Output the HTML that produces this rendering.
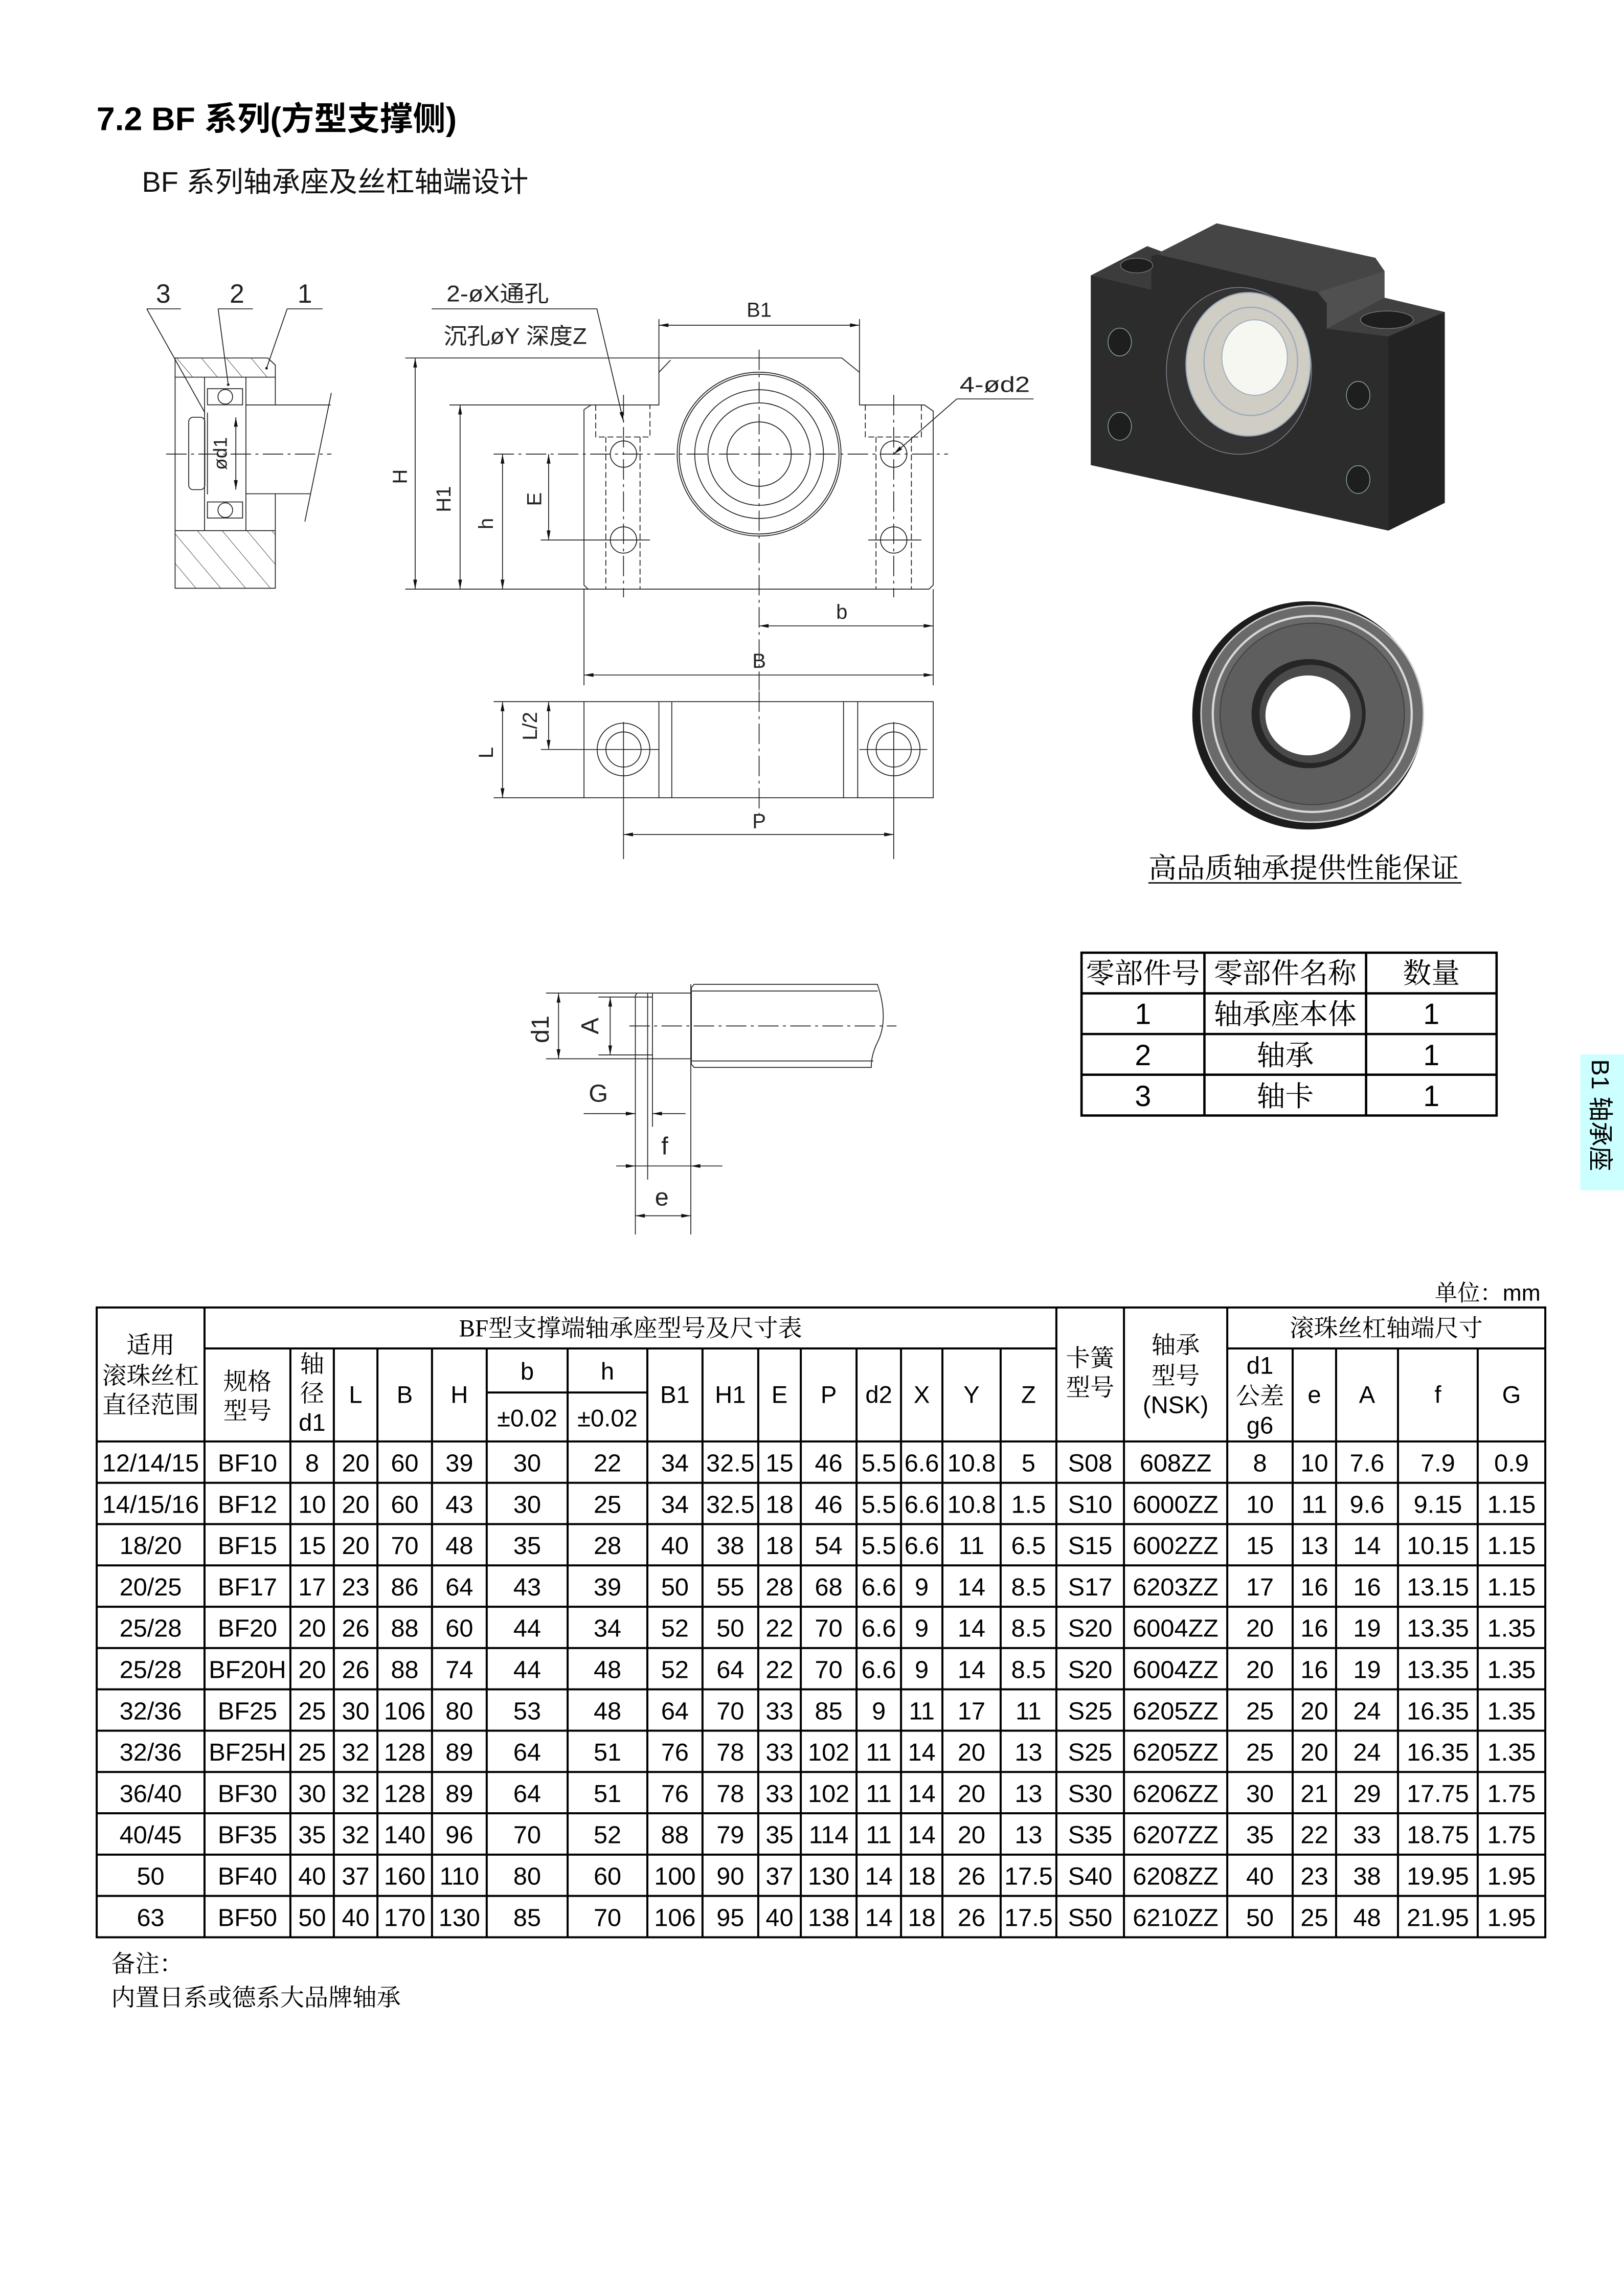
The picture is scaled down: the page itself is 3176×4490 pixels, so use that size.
<!DOCTYPE html>
<html><head><meta charset="utf-8"><style>
html,body{margin:0;padding:0;background:#fff;}
svg{display:block;}
.cad{font-family:"Liberation Sans","Noto Sans CJK SC",sans-serif;fill:#222;}
.s{font-family:"Liberation Serif","Noto Serif CJK SC",serif;fill:#000;}
.n{font-family:"Liberation Sans",sans-serif;fill:#000;}
</style></head><body>
<svg width="3176" height="4490" viewBox="0 0 1110.1 1569.4" preserveAspectRatio="none" xmlns="http://www.w3.org/2000/svg">
<defs>
<marker id="a" viewBox="0 0 10 4" refX="10" refY="2" markerWidth="8" markerHeight="2.6" markerUnits="userSpaceOnUse" orient="auto-start-reverse"><path d="M0,0 L10,2 L0,4z" fill="#111"/></marker>
<pattern id="hat" patternUnits="userSpaceOnUse" width="13" height="13" patternTransform="rotate(-40)"><line x1="0" y1="0" x2="0" y2="13" stroke="#333" stroke-width="0.6"/></pattern>
</defs>
<rect width="1110.1" height="1569.4" fill="#fff"/>

<text x="66" y="89" font-family="'Liberation Sans','Noto Sans CJK SC',sans-serif" font-weight="bold" font-size="22.5" fill="#000">7.2 BF 系列(方型支撑侧)</text>
<text x="97" y="131" font-family="'Liberation Sans','Noto Sans CJK SC',sans-serif" font-size="19.5" fill="#111">BF 系列轴承座及丝杠轴端设计</text>

<g stroke="#222" stroke-width="0.6" fill="none">
<path d="M119.7,257.8 V244.7 H183 L188.2,249.5 V257.8 Z" fill="url(#hat)"/>
<rect x="119.7" y="362.7" width="68.5" height="39.4" fill="url(#hat)"/>
<line x1="119.7" y1="257.8" x2="119.7" y2="362.7"/>
<line x1="188.2" y1="257.8" x2="188.2" y2="276.8"/>
<line x1="188.2" y1="337.5" x2="188.2" y2="362.7"/>
<line x1="139.8" y1="257.8" x2="139.8" y2="362.7"/>
<line x1="168.1" y1="257.8" x2="168.1" y2="362.7"/>
<line x1="168.1" y1="276.8" x2="226" y2="276.8"/>
<line x1="168.1" y1="337.5" x2="212" y2="337.5"/>
<line x1="226.5" y1="268.5" x2="208.4" y2="356.5"/>
<rect x="129" y="285.2" width="11" height="49.5" rx="3"/>
<line x1="141.8" y1="282" x2="141.8" y2="338"/>
<rect x="141.8" y="265.7" width="24" height="11"/>
<circle cx="154" cy="271.2" r="5"/>
<rect x="141.8" y="343.1" width="24" height="11"/>
<circle cx="154" cy="348.7" r="5"/>
<line x1="113.6" y1="310.4" x2="226.5" y2="310.4" stroke-dasharray="14 3 2 3"/>
<line x1="161.2" y1="285.2" x2="161.2" y2="334.7" marker-start="url(#a)" marker-end="url(#a)"/>
<polyline points="100.3,211.1 123.7,211.1"/><line x1="100.3" y1="211.1" x2="140" y2="282"/>
<polyline points="149.1,211.1 172.9,211.1"/><line x1="149.1" y1="211.1" x2="156" y2="262.9"/>
<polyline points="196.3,211.1 220.5,211.1"/><line x1="196.3" y1="211.1" x2="182.2" y2="251.7"/>
</g>
<circle cx="156" cy="262.9" r="0.9" fill="#222"/><circle cx="182.2" cy="251.7" r="0.9" fill="#222"/>
<text class="cad" x="111.6" y="207" font-size="18" text-anchor="middle">3</text>
<text class="cad" x="162" y="207" font-size="18" text-anchor="middle">2</text>
<text class="cad" x="208.4" y="207" font-size="18" text-anchor="middle">1</text>
<text class="cad" transform="translate(155,310) rotate(-90)" font-size="13" text-anchor="middle">ød1</text>

<g stroke="#222" stroke-width="0.6" fill="none">
<path d="M277,244.7 H575.4 L587.5,254.5 V276.8 H631.9 L637.9,281 V399.9 L635,402.7 H277"/>
<path d="M307.2,276.8 H450.4 V244.7"/>
<path d="M450.4,254.5 L458.4,246.1"/>
<path d="M404,276.8 L399.2,280 V400 L402,402.7"/>
<g stroke-dasharray="4 2">
<path d="M407.2,276.8 V298.7 H444.3 V276.8"/>
<line x1="414.1" y1="298.7" x2="414.1" y2="402.7"/><line x1="437.5" y1="298.7" x2="437.5" y2="402.7"/>
<path d="M591.5,276.8 V298.7 H629.8 V276.8"/>
<line x1="598.8" y1="298.7" x2="598.8" y2="402.7"/><line x1="623" y1="298.7" x2="623" y2="402.7"/>
</g>
<circle cx="426.2" cy="310.4" r="9"/><circle cx="426.2" cy="369.1" r="9"/>
<circle cx="610.9" cy="310.4" r="9"/><circle cx="610.9" cy="369.1" r="9"/>
<circle cx="518.9" cy="310.4" r="56"/><circle cx="518.9" cy="310.4" r="54.6"/>
<circle cx="518.9" cy="310.4" r="44"/><circle cx="518.9" cy="310.4" r="35"/><circle cx="518.9" cy="310.4" r="22"/>
<g stroke-dasharray="14 3 2 3">
<line x1="426.2" y1="269.9" x2="426.2" y2="408.3"/>
<line x1="610.9" y1="269.9" x2="610.9" y2="408.3"/>
<line x1="518.9" y1="239" x2="518.9" y2="472"/>
<line x1="337.4" y1="310.4" x2="648" y2="310.4"/>
</g>
<line x1="369.7" y1="369.1" x2="444.3" y2="369.1"/>
<line x1="593.5" y1="369.1" x2="629.8" y2="369.1"/>
<line x1="283.8" y1="244.7" x2="283.8" y2="402.7" marker-start="url(#a)" marker-end="url(#a)"/>
<line x1="314.5" y1="276.8" x2="314.5" y2="402.7" marker-start="url(#a)" marker-end="url(#a)"/>
<line x1="343.5" y1="310.4" x2="343.5" y2="402.7" marker-start="url(#a)" marker-end="url(#a)"/>
<line x1="375" y1="310.4" x2="375" y2="369.1" marker-start="url(#a)" marker-end="url(#a)"/>
<line x1="450.4" y1="218.1" x2="450.4" y2="244.7"/><line x1="587.5" y1="218.1" x2="587.5" y2="254.5"/>
<line x1="450.4" y1="222.3" x2="587.5" y2="222.3" marker-start="url(#a)" marker-end="url(#a)"/>
<line x1="637.9" y1="402.7" x2="637.9" y2="468.4"/><line x1="399.2" y1="402.7" x2="399.2" y2="468.4"/>
<line x1="518.9" y1="427.8" x2="637.9" y2="427.8" marker-start="url(#a)" marker-end="url(#a)"/>
<line x1="399.2" y1="461.4" x2="637.9" y2="461.4" marker-start="url(#a)" marker-end="url(#a)"/>
<polyline points="295.1,211.1 408,211.1 426.2,288" marker-end="url(#a)"/>
<polyline points="706.5,272.7 654,272.7 610.9,310.4" marker-end="url(#a)"/>
</g>
<text class="cad" x="305.2" y="206" font-size="15.5" textLength="70" lengthAdjust="spacingAndGlyphs">2-øX通孔</text>
<text class="cad" x="303.2" y="235" font-size="15.5" textLength="98" lengthAdjust="spacingAndGlyphs">沉孔øY 深度Z</text>
<text class="cad" x="518.9" y="216.5" font-size="14" text-anchor="middle">B1</text>
<text class="cad" x="656" y="268" font-size="15" textLength="48" lengthAdjust="spacingAndGlyphs">4-ød2</text>
<text class="cad" transform="translate(278,325.8) rotate(-90)" font-size="14" text-anchor="middle">H</text>
<text class="cad" transform="translate(308,341.2) rotate(-90)" font-size="14" text-anchor="middle">H1</text>
<text class="cad" transform="translate(337,357.9) rotate(-90)" font-size="14" text-anchor="middle">h</text>
<text class="cad" transform="translate(370,341.2) rotate(-90)" font-size="14" text-anchor="middle">E</text>
<text class="cad" x="575.4" y="423" font-size="14" text-anchor="middle">b</text>
<text class="cad" x="518.9" y="456.5" font-size="14" text-anchor="middle">B</text>

<g stroke="#222" stroke-width="0.6" fill="none">
<rect x="399.2" y="479.6" width="238.7" height="65.7"/>
<line x1="450.4" y1="479.6" x2="450.4" y2="545.3"/><line x1="459.2" y1="479.6" x2="459.2" y2="545.3"/>
<line x1="576.6" y1="479.6" x2="576.6" y2="545.3"/><line x1="586.3" y1="479.6" x2="586.3" y2="545.3"/>
<circle cx="426.2" cy="512.3" r="18"/><circle cx="426.2" cy="512.3" r="12"/>
<circle cx="610.9" cy="512.3" r="18"/><circle cx="610.9" cy="512.3" r="12"/>
<line x1="337.4" y1="479.6" x2="399.2" y2="479.6"/><line x1="337.4" y1="545.3" x2="399.2" y2="545.3"/>
<line x1="369.7" y1="512.3" x2="450.4" y2="512.3"/><line x1="587.5" y1="512.3" x2="633.9" y2="512.3"/>
<line x1="426.2" y1="493.5" x2="426.2" y2="587.2"/><line x1="610.9" y1="493.5" x2="610.9" y2="587.2"/>
<line x1="518.9" y1="472.6" x2="518.9" y2="556.5" stroke-dasharray="14 3 2 3"/>
<line x1="343.5" y1="479.6" x2="343.5" y2="545.3" marker-start="url(#a)" marker-end="url(#a)"/>
<line x1="375" y1="479.6" x2="375" y2="512.3" marker-start="url(#a)" marker-end="url(#a)"/>
<line x1="426.2" y1="570.4" x2="610.9" y2="570.4" marker-start="url(#a)" marker-end="url(#a)"/>
</g>
<text class="cad" transform="translate(337,514.5) rotate(-90)" font-size="14" text-anchor="middle">L</text>
<text class="cad" transform="translate(367,496.3) rotate(-90)" font-size="14" text-anchor="middle">L/2</text>
<text class="cad" x="518.9" y="566" font-size="14" text-anchor="middle">P</text>

<g>
<polygon points="745.6,188.3 784.2,168.3 794,171.9 831.7,152.7 940.1,176.2 946.4,185.3 946.4,203.5 987.6,213.3 987.6,343.7 949,362.7 745.6,317.9" fill="#2c2c2c"/>
<polygon points="745.6,188.3 784.2,168.3 794,171.9 791.3,173.9 787,175 787,198.2" fill="#3c3c3c"/>
<polygon points="794,171.9 831.7,152.7 940.1,176.2 946.4,185.3 900.7,199.7 791.3,173.9" fill="#454545"/>
<polygon points="946.4,185.3 946.4,203.5 906.9,224.7 906.9,207.3 900.7,199.7" fill="#505050"/>
<polygon points="946.4,203.5 987.6,213.3 949,230 906.9,224.7" fill="#404040"/>
<polygon points="987.6,213.3 987.6,343.7 949,362.7 949,230" fill="#232323"/>
<ellipse cx="777" cy="181.5" rx="11" ry="5" fill="#1e1e1e" stroke="#777" stroke-width="0.5"/>
<ellipse cx="948" cy="218.6" rx="18" ry="6" fill="#1e1e1e" stroke="#777" stroke-width="0.5"/>
<ellipse cx="846.9" cy="253.5" rx="49.6" ry="57" fill="#333" stroke="#889" stroke-width="0.5"/>
<ellipse cx="853.2" cy="249" rx="42.5" ry="49" fill="#cfcdc4" stroke="#9ab" stroke-width="0.8"/>
<ellipse cx="855" cy="247" rx="32" ry="37" fill="none" stroke="#9ab" stroke-width="0.8"/>
<ellipse cx="857.6" cy="244.4" rx="22.4" ry="25.8" fill="#f7f7f2" stroke="#9ab" stroke-width="0.6"/>
<ellipse cx="765.4" cy="233.8" rx="8" ry="9.5" fill="#1e1e1e" stroke="#8aa" stroke-width="0.5"/>
<ellipse cx="765.4" cy="291.4" rx="8" ry="9.5" fill="#1e1e1e" stroke="#8aa" stroke-width="0.5"/>
<ellipse cx="928.4" cy="270.2" rx="8" ry="9.5" fill="#1e1e1e" stroke="#8aa" stroke-width="0.5"/>
<ellipse cx="928.4" cy="327.8" rx="8" ry="9.5" fill="#1e1e1e" stroke="#8aa" stroke-width="0.5"/>
</g>

<g>
<ellipse cx="894" cy="489" rx="79" ry="78" fill="#1c1c1c"/>
<ellipse cx="897" cy="488" rx="76" ry="74" fill="#6a6a6a" stroke="#cfcfcf" stroke-width="1"/>
<ellipse cx="897" cy="488" rx="68" ry="67" fill="none" stroke="#d8d8d8" stroke-width="1.5"/>
<ellipse cx="897" cy="488" rx="63" ry="62" fill="#5e5e5e" stroke="#444" stroke-width="0.8"/>
<ellipse cx="894.5" cy="487.8" rx="39" ry="37.3" fill="#262626"/>
<ellipse cx="896" cy="488" rx="35" ry="33.5" fill="#4a4a4a"/>
<ellipse cx="894" cy="489" rx="29" ry="27.3" fill="#ffffff"/>
</g>
<text x="785" y="600" font-family="'Liberation Serif','Noto Serif CJK SC',serif" font-size="19.3" fill="#000">高品质轴承提供性能保证</text>
<line x1="785" y1="603.5" x2="999" y2="603.5" stroke="#000" stroke-width="0.9"/>

<g stroke="#222" stroke-width="0.6" fill="none">
<path d="M474.5,672.8 H599.7 C604,685 606,700 600,712 C596,720 595.5,726 595.6,729.6 H474.5 L472.6,727.5 V675 Z"/>
<line x1="473" y1="677.4" x2="600" y2="677.4"/>
<line x1="473" y1="725.2" x2="597" y2="725.2"/>
<line x1="373.2" y1="678.8" x2="472.6" y2="678.8"/>
<line x1="373.2" y1="723.7" x2="472.6" y2="723.7"/>
<path d="M435.5,678.8 L434.3,680.5 V843.8"/>
<line x1="442.7" y1="678.8" x2="442.7" y2="806.3"/>
<line x1="446" y1="678.8" x2="446" y2="770.2"/>
<line x1="472.2" y1="672.8" x2="472.2" y2="843.8"/>
<line x1="409" y1="681.5" x2="446" y2="681.5"/>
<line x1="409" y1="721.1" x2="446" y2="721.1"/>
<line x1="381.8" y1="678.8" x2="381.8" y2="723.7" marker-start="url(#a)" marker-end="url(#a)"/>
<line x1="417.1" y1="681.5" x2="417.1" y2="721.1" marker-start="url(#a)" marker-end="url(#a)"/>
<line x1="430.2" y1="701.3" x2="612.8" y2="701.3" stroke-dasharray="14 3 2 3"/>
<line x1="399" y1="761.2" x2="434.3" y2="761.2" marker-end="url(#a)"/>
<line x1="468.6" y1="761.2" x2="446" y2="761.2" marker-end="url(#a)"/>
<line x1="421.2" y1="797" x2="434.3" y2="797" marker-end="url(#a)"/>
<line x1="434.3" y1="797" x2="472.2" y2="797"/>
<line x1="493.8" y1="797" x2="472.2" y2="797" marker-end="url(#a)"/>
<line x1="434.3" y1="831" x2="472.2" y2="831" marker-start="url(#a)" marker-end="url(#a)"/>
</g>
<text class="cad" transform="translate(375,703.6) rotate(-90)" font-size="17" text-anchor="middle">d1</text>
<text class="cad" transform="translate(409,701.3) rotate(-90)" font-size="17" text-anchor="middle">A</text>
<text class="cad" x="409" y="753" font-size="17" text-anchor="middle">G</text>
<text class="cad" x="454.4" y="789" font-size="17" text-anchor="middle">f</text>
<text class="cad" x="452.4" y="824" font-size="17" text-anchor="middle">e</text>

<g stroke="#000" stroke-width="1.6" fill="none">
<rect x="739.3" y="651.2" width="283.7" height="111.3"/>
<line x1="823.3" y1="651.2" x2="823.3" y2="762.5"/>
<line x1="933.8" y1="651.2" x2="933.8" y2="762.5"/>
<line x1="739.3" y1="679" x2="1023" y2="679"/>
<line x1="739.3" y1="706.8" x2="1023" y2="706.8"/>
<line x1="739.3" y1="734.6" x2="1023" y2="734.6"/>
</g>
<g class="s" font-size="19.5" text-anchor="middle">
<text x="781.3" y="672">零部件号</text><text x="878.5" y="672">零部件名称</text><text x="978.4" y="672">数量</text>
<text x="878.5" y="700">轴承座本体</text><text x="878.5" y="728">轴承</text><text x="878.5" y="756">轴卡</text>
</g>
<g class="n" font-size="20" text-anchor="middle">
<text x="781.3" y="700">1</text><text x="978.4" y="700">1</text>
<text x="781.3" y="728">2</text><text x="978.4" y="728">1</text>
<text x="781.3" y="756">3</text><text x="978.4" y="756">1</text>
</g>

<rect x="1080.2" y="720.7" width="29.9" height="92.8" fill="#ccffff"/>
<text transform="translate(1088,724) rotate(90)" font-family="'Liberation Sans','Noto Sans CJK SC',sans-serif" font-size="17" fill="#000">B1 轴承座</text>

<text x="1053" y="889" class="s" font-size="15.5" text-anchor="end">单位：<tspan font-family="Liberation Sans">mm</tspan></text>
<g stroke="#000" stroke-width="1.4">
<line x1="66.1" y1="893.7" x2="1056.3" y2="893.7"/>
<line x1="139.8" y1="921.7" x2="722.1" y2="921.7"/>
<line x1="838.9" y1="921.7" x2="1056.3" y2="921.7"/>
<line x1="332.7" y1="951.8" x2="442.5" y2="951.8"/>
<line x1="66.1" y1="985.3" x2="1056.3" y2="985.3"/>
<line x1="66.1" y1="1013.54" x2="1056.3" y2="1013.54"/>
<line x1="66.1" y1="1041.78" x2="1056.3" y2="1041.78"/>
<line x1="66.1" y1="1070.02" x2="1056.3" y2="1070.02"/>
<line x1="66.1" y1="1098.26" x2="1056.3" y2="1098.26"/>
<line x1="66.1" y1="1126.5" x2="1056.3" y2="1126.5"/>
<line x1="66.1" y1="1154.74" x2="1056.3" y2="1154.74"/>
<line x1="66.1" y1="1182.98" x2="1056.3" y2="1182.98"/>
<line x1="66.1" y1="1211.22" x2="1056.3" y2="1211.22"/>
<line x1="66.1" y1="1239.46" x2="1056.3" y2="1239.46"/>
<line x1="66.1" y1="1267.7" x2="1056.3" y2="1267.7"/>
<line x1="66.1" y1="1295.94" x2="1056.3" y2="1295.94"/>
<line x1="66.1" y1="1324.2" x2="1056.3" y2="1324.2"/>
<line x1="66.1" y1="893" x2="66.1" y2="1324.9"/>
<line x1="1056.3" y1="893" x2="1056.3" y2="1324.9"/>
<line x1="139.8" y1="893.7" x2="139.8" y2="1324.2"/>
<line x1="722.1" y1="893.7" x2="722.1" y2="1324.2"/>
<line x1="768.3" y1="893.7" x2="768.3" y2="1324.2"/>
<line x1="838.9" y1="893.7" x2="838.9" y2="1324.2"/>
<line x1="198.5" y1="921.7" x2="198.5" y2="1324.2"/>
<line x1="228.2" y1="921.7" x2="228.2" y2="1324.2"/>
<line x1="258" y1="921.7" x2="258" y2="1324.2"/>
<line x1="295.3" y1="921.7" x2="295.3" y2="1324.2"/>
<line x1="332.7" y1="921.7" x2="332.7" y2="1324.2"/>
<line x1="388" y1="921.7" x2="388" y2="1324.2"/>
<line x1="442.5" y1="921.7" x2="442.5" y2="1324.2"/>
<line x1="480.2" y1="921.7" x2="480.2" y2="1324.2"/>
<line x1="518.3" y1="921.7" x2="518.3" y2="1324.2"/>
<line x1="547.4" y1="921.7" x2="547.4" y2="1324.2"/>
<line x1="585.5" y1="921.7" x2="585.5" y2="1324.2"/>
<line x1="615.9" y1="921.7" x2="615.9" y2="1324.2"/>
<line x1="644.2" y1="921.7" x2="644.2" y2="1324.2"/>
<line x1="684" y1="921.7" x2="684" y2="1324.2"/>
<line x1="883.6" y1="921.7" x2="883.6" y2="1324.2"/>
<line x1="913.3" y1="921.7" x2="913.3" y2="1324.2"/>
<line x1="955.6" y1="921.7" x2="955.6" y2="1324.2"/>
<line x1="1010.1" y1="921.7" x2="1010.1" y2="1324.2"/>
</g>
<g class="s" font-size="16.5" text-anchor="middle">
<text x="102.95" y="925">适用</text><text x="102.95" y="946">滚珠丝杠</text><text x="102.95" y="966">直径范围</text>
<text x="431" y="913.5">BF型支撑端轴承座型号及尺寸表</text>
<text x="169.15" y="950">规格</text><text x="169.15" y="970">型号</text>
<text x="213.35" y="938">轴</text><text x="213.35" y="958">径</text>
<text x="745.2" y="934">卡簧</text><text x="745.2" y="954">型号</text>
<text x="803.6" y="925">轴承</text><text x="803.6" y="946">型号</text>
<text x="947.6" y="913.5">滚珠丝杠轴端尺寸</text>
<text x="861.25" y="960">公差</text>
</g>
<g class="n" font-size="16.5" text-anchor="middle">
<text x="213.35" y="978">d1</text>
<text x="243.1" y="959">L</text><text x="276.65" y="959">B</text><text x="314" y="959">H</text>
<text x="360.35" y="943">b</text><text x="415.25" y="943">h</text>
<text x="360.35" y="975">±0.02</text><text x="415.25" y="975">±0.02</text>
<text x="461.35" y="959">B1</text><text x="499.25" y="959">H1</text><text x="532.85" y="959">E</text><text x="566.45" y="959">P</text>
<text x="600.7" y="959">d2</text><text x="630.05" y="959">X</text><text x="664.1" y="959">Y</text><text x="703.05" y="959">Z</text>
<text x="803.6" y="966">(NSK)</text>
<text x="861.25" y="939">d1</text><text x="861.25" y="980">g6</text>
<text x="898.45" y="959">e</text><text x="934.45" y="959">A</text><text x="982.85" y="959">f</text><text x="1033.2" y="959">G</text>
</g>

<g class="n" font-size="17" text-anchor="middle">
<g transform="translate(0,985.3)">
<text x="102.95" y="20.5">12/14/15</text><text x="169.15" y="20.5">BF10</text><text x="213.35" y="20.5">8</text><text x="243.1" y="20.5">20</text><text x="276.65" y="20.5">60</text><text x="314" y="20.5">39</text><text x="360.35" y="20.5">30</text><text x="415.25" y="20.5">22</text><text x="461.35" y="20.5">34</text><text x="499.25" y="20.5">32.5</text><text x="532.85" y="20.5">15</text><text x="566.45" y="20.5">46</text><text x="600.7" y="20.5">5.5</text><text x="630.05" y="20.5">6.6</text><text x="664.1" y="20.5">10.8</text><text x="703.05" y="20.5">5</text><text x="745.2" y="20.5">S08</text><text x="803.6" y="20.5">608ZZ</text><text x="861.25" y="20.5">8</text><text x="898.45" y="20.5">10</text><text x="934.45" y="20.5">7.6</text><text x="982.85" y="20.5">7.9</text><text x="1033.2" y="20.5">0.9</text>
</g>
<g transform="translate(0,1013.54)">
<text x="102.95" y="20.5">14/15/16</text><text x="169.15" y="20.5">BF12</text><text x="213.35" y="20.5">10</text><text x="243.1" y="20.5">20</text><text x="276.65" y="20.5">60</text><text x="314" y="20.5">43</text><text x="360.35" y="20.5">30</text><text x="415.25" y="20.5">25</text><text x="461.35" y="20.5">34</text><text x="499.25" y="20.5">32.5</text><text x="532.85" y="20.5">18</text><text x="566.45" y="20.5">46</text><text x="600.7" y="20.5">5.5</text><text x="630.05" y="20.5">6.6</text><text x="664.1" y="20.5">10.8</text><text x="703.05" y="20.5">1.5</text><text x="745.2" y="20.5">S10</text><text x="803.6" y="20.5">6000ZZ</text><text x="861.25" y="20.5">10</text><text x="898.45" y="20.5">11</text><text x="934.45" y="20.5">9.6</text><text x="982.85" y="20.5">9.15</text><text x="1033.2" y="20.5">1.15</text>
</g>
<g transform="translate(0,1041.78)">
<text x="102.95" y="20.5">18/20</text><text x="169.15" y="20.5">BF15</text><text x="213.35" y="20.5">15</text><text x="243.1" y="20.5">20</text><text x="276.65" y="20.5">70</text><text x="314" y="20.5">48</text><text x="360.35" y="20.5">35</text><text x="415.25" y="20.5">28</text><text x="461.35" y="20.5">40</text><text x="499.25" y="20.5">38</text><text x="532.85" y="20.5">18</text><text x="566.45" y="20.5">54</text><text x="600.7" y="20.5">5.5</text><text x="630.05" y="20.5">6.6</text><text x="664.1" y="20.5">11</text><text x="703.05" y="20.5">6.5</text><text x="745.2" y="20.5">S15</text><text x="803.6" y="20.5">6002ZZ</text><text x="861.25" y="20.5">15</text><text x="898.45" y="20.5">13</text><text x="934.45" y="20.5">14</text><text x="982.85" y="20.5">10.15</text><text x="1033.2" y="20.5">1.15</text>
</g>
<g transform="translate(0,1070.02)">
<text x="102.95" y="20.5">20/25</text><text x="169.15" y="20.5">BF17</text><text x="213.35" y="20.5">17</text><text x="243.1" y="20.5">23</text><text x="276.65" y="20.5">86</text><text x="314" y="20.5">64</text><text x="360.35" y="20.5">43</text><text x="415.25" y="20.5">39</text><text x="461.35" y="20.5">50</text><text x="499.25" y="20.5">55</text><text x="532.85" y="20.5">28</text><text x="566.45" y="20.5">68</text><text x="600.7" y="20.5">6.6</text><text x="630.05" y="20.5">9</text><text x="664.1" y="20.5">14</text><text x="703.05" y="20.5">8.5</text><text x="745.2" y="20.5">S17</text><text x="803.6" y="20.5">6203ZZ</text><text x="861.25" y="20.5">17</text><text x="898.45" y="20.5">16</text><text x="934.45" y="20.5">16</text><text x="982.85" y="20.5">13.15</text><text x="1033.2" y="20.5">1.15</text>
</g>
<g transform="translate(0,1098.26)">
<text x="102.95" y="20.5">25/28</text><text x="169.15" y="20.5">BF20</text><text x="213.35" y="20.5">20</text><text x="243.1" y="20.5">26</text><text x="276.65" y="20.5">88</text><text x="314" y="20.5">60</text><text x="360.35" y="20.5">44</text><text x="415.25" y="20.5">34</text><text x="461.35" y="20.5">52</text><text x="499.25" y="20.5">50</text><text x="532.85" y="20.5">22</text><text x="566.45" y="20.5">70</text><text x="600.7" y="20.5">6.6</text><text x="630.05" y="20.5">9</text><text x="664.1" y="20.5">14</text><text x="703.05" y="20.5">8.5</text><text x="745.2" y="20.5">S20</text><text x="803.6" y="20.5">6004ZZ</text><text x="861.25" y="20.5">20</text><text x="898.45" y="20.5">16</text><text x="934.45" y="20.5">19</text><text x="982.85" y="20.5">13.35</text><text x="1033.2" y="20.5">1.35</text>
</g>
<g transform="translate(0,1126.5)">
<text x="102.95" y="20.5">25/28</text><text x="169.15" y="20.5">BF20H</text><text x="213.35" y="20.5">20</text><text x="243.1" y="20.5">26</text><text x="276.65" y="20.5">88</text><text x="314" y="20.5">74</text><text x="360.35" y="20.5">44</text><text x="415.25" y="20.5">48</text><text x="461.35" y="20.5">52</text><text x="499.25" y="20.5">64</text><text x="532.85" y="20.5">22</text><text x="566.45" y="20.5">70</text><text x="600.7" y="20.5">6.6</text><text x="630.05" y="20.5">9</text><text x="664.1" y="20.5">14</text><text x="703.05" y="20.5">8.5</text><text x="745.2" y="20.5">S20</text><text x="803.6" y="20.5">6004ZZ</text><text x="861.25" y="20.5">20</text><text x="898.45" y="20.5">16</text><text x="934.45" y="20.5">19</text><text x="982.85" y="20.5">13.35</text><text x="1033.2" y="20.5">1.35</text>
</g>
<g transform="translate(0,1154.74)">
<text x="102.95" y="20.5">32/36</text><text x="169.15" y="20.5">BF25</text><text x="213.35" y="20.5">25</text><text x="243.1" y="20.5">30</text><text x="276.65" y="20.5">106</text><text x="314" y="20.5">80</text><text x="360.35" y="20.5">53</text><text x="415.25" y="20.5">48</text><text x="461.35" y="20.5">64</text><text x="499.25" y="20.5">70</text><text x="532.85" y="20.5">33</text><text x="566.45" y="20.5">85</text><text x="600.7" y="20.5">9</text><text x="630.05" y="20.5">11</text><text x="664.1" y="20.5">17</text><text x="703.05" y="20.5">11</text><text x="745.2" y="20.5">S25</text><text x="803.6" y="20.5">6205ZZ</text><text x="861.25" y="20.5">25</text><text x="898.45" y="20.5">20</text><text x="934.45" y="20.5">24</text><text x="982.85" y="20.5">16.35</text><text x="1033.2" y="20.5">1.35</text>
</g>
<g transform="translate(0,1182.98)">
<text x="102.95" y="20.5">32/36</text><text x="169.15" y="20.5">BF25H</text><text x="213.35" y="20.5">25</text><text x="243.1" y="20.5">32</text><text x="276.65" y="20.5">128</text><text x="314" y="20.5">89</text><text x="360.35" y="20.5">64</text><text x="415.25" y="20.5">51</text><text x="461.35" y="20.5">76</text><text x="499.25" y="20.5">78</text><text x="532.85" y="20.5">33</text><text x="566.45" y="20.5">102</text><text x="600.7" y="20.5">11</text><text x="630.05" y="20.5">14</text><text x="664.1" y="20.5">20</text><text x="703.05" y="20.5">13</text><text x="745.2" y="20.5">S25</text><text x="803.6" y="20.5">6205ZZ</text><text x="861.25" y="20.5">25</text><text x="898.45" y="20.5">20</text><text x="934.45" y="20.5">24</text><text x="982.85" y="20.5">16.35</text><text x="1033.2" y="20.5">1.35</text>
</g>
<g transform="translate(0,1211.22)">
<text x="102.95" y="20.5">36/40</text><text x="169.15" y="20.5">BF30</text><text x="213.35" y="20.5">30</text><text x="243.1" y="20.5">32</text><text x="276.65" y="20.5">128</text><text x="314" y="20.5">89</text><text x="360.35" y="20.5">64</text><text x="415.25" y="20.5">51</text><text x="461.35" y="20.5">76</text><text x="499.25" y="20.5">78</text><text x="532.85" y="20.5">33</text><text x="566.45" y="20.5">102</text><text x="600.7" y="20.5">11</text><text x="630.05" y="20.5">14</text><text x="664.1" y="20.5">20</text><text x="703.05" y="20.5">13</text><text x="745.2" y="20.5">S30</text><text x="803.6" y="20.5">6206ZZ</text><text x="861.25" y="20.5">30</text><text x="898.45" y="20.5">21</text><text x="934.45" y="20.5">29</text><text x="982.85" y="20.5">17.75</text><text x="1033.2" y="20.5">1.75</text>
</g>
<g transform="translate(0,1239.46)">
<text x="102.95" y="20.5">40/45</text><text x="169.15" y="20.5">BF35</text><text x="213.35" y="20.5">35</text><text x="243.1" y="20.5">32</text><text x="276.65" y="20.5">140</text><text x="314" y="20.5">96</text><text x="360.35" y="20.5">70</text><text x="415.25" y="20.5">52</text><text x="461.35" y="20.5">88</text><text x="499.25" y="20.5">79</text><text x="532.85" y="20.5">35</text><text x="566.45" y="20.5">114</text><text x="600.7" y="20.5">11</text><text x="630.05" y="20.5">14</text><text x="664.1" y="20.5">20</text><text x="703.05" y="20.5">13</text><text x="745.2" y="20.5">S35</text><text x="803.6" y="20.5">6207ZZ</text><text x="861.25" y="20.5">35</text><text x="898.45" y="20.5">22</text><text x="934.45" y="20.5">33</text><text x="982.85" y="20.5">18.75</text><text x="1033.2" y="20.5">1.75</text>
</g>
<g transform="translate(0,1267.7)">
<text x="102.95" y="20.5">50</text><text x="169.15" y="20.5">BF40</text><text x="213.35" y="20.5">40</text><text x="243.1" y="20.5">37</text><text x="276.65" y="20.5">160</text><text x="314" y="20.5">110</text><text x="360.35" y="20.5">80</text><text x="415.25" y="20.5">60</text><text x="461.35" y="20.5">100</text><text x="499.25" y="20.5">90</text><text x="532.85" y="20.5">37</text><text x="566.45" y="20.5">130</text><text x="600.7" y="20.5">14</text><text x="630.05" y="20.5">18</text><text x="664.1" y="20.5">26</text><text x="703.05" y="20.5">17.5</text><text x="745.2" y="20.5">S40</text><text x="803.6" y="20.5">6208ZZ</text><text x="861.25" y="20.5">40</text><text x="898.45" y="20.5">23</text><text x="934.45" y="20.5">38</text><text x="982.85" y="20.5">19.95</text><text x="1033.2" y="20.5">1.95</text>
</g>
<g transform="translate(0,1295.94)">
<text x="102.95" y="20.5">63</text><text x="169.15" y="20.5">BF50</text><text x="213.35" y="20.5">50</text><text x="243.1" y="20.5">40</text><text x="276.65" y="20.5">170</text><text x="314" y="20.5">130</text><text x="360.35" y="20.5">85</text><text x="415.25" y="20.5">70</text><text x="461.35" y="20.5">106</text><text x="499.25" y="20.5">95</text><text x="532.85" y="20.5">40</text><text x="566.45" y="20.5">138</text><text x="600.7" y="20.5">14</text><text x="630.05" y="20.5">18</text><text x="664.1" y="20.5">26</text><text x="703.05" y="20.5">17.5</text><text x="745.2" y="20.5">S50</text><text x="803.6" y="20.5">6210ZZ</text><text x="861.25" y="20.5">50</text><text x="898.45" y="20.5">25</text><text x="934.45" y="20.5">48</text><text x="982.85" y="20.5">21.95</text><text x="1033.2" y="20.5">1.95</text>
</g>
</g>

<text x="76" y="1348" class="s" font-size="16.5">备注：</text>
<text x="76" y="1371" class="s" font-size="16.5">内置日系或德系大品牌轴承</text>
</svg>
</body></html>
